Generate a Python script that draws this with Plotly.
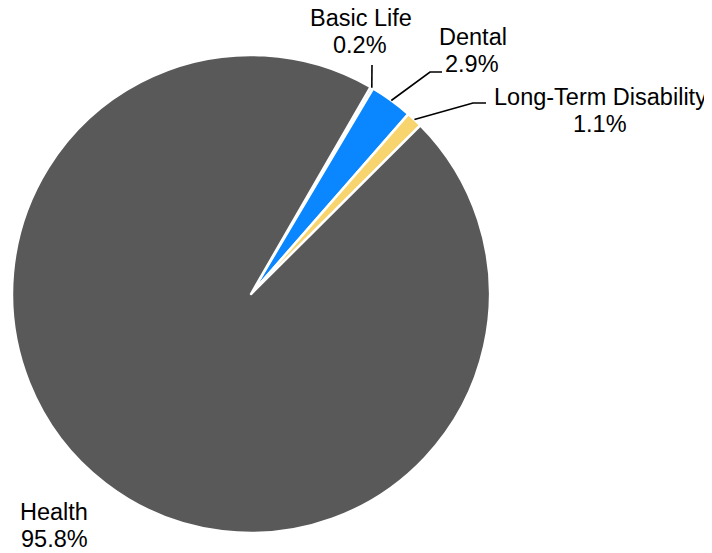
import math
import plotly.graph_objects as go

labels = ["Basic Life", "Dental", "Long-Term Disability", "Health"]
values = [0.2, 2.9, 1.1, 95.8]
pct_text = ["0.2%", "2.9%", "1.1%", "95.8%"]
colors = ["#9DC3E6", "#0A86FF", "#F8D46E", "#595959"]

OFF = 8  # page body margin
W, H = 712 - OFF, 553 - OFF
CX, CY, R = 251, 294, 239
ROT = 30

# label layout (pixel positions of text centers in the window) and leader elbows
label_pos = {
    "Basic Life": (361, 18, 360, 45),
    "Dental": (473, 37, 472, 64),
    "Long-Term Disability": (600, 97, 600, 124),
    "Health": (54, 512, 54, 539),
}
leader = {
    "Basic Life": [(372, 65)],
    "Dental": [(430, 72), (442, 72)],
    "Long-Term Disability": [(473, 103), (486, 103)],
}

def px(x):
    return (x - OFF) / W

def py(y):
    return 1 - (y - OFF) / H

fig = go.Figure(go.Pie(
    labels=labels, values=values, sort=False, direction="clockwise",
    rotation=ROT, textinfo="none", hoverinfo="label+percent",
    marker=dict(colors=colors, line=dict(color="white", width=2.5)),
    domain=dict(x=[px(CX - R), px(CX + R)], y=[py(CY + R), py(CY - R)]),
    showlegend=False,
))

annotations = []
shapes = []
total = sum(values)
cum = 0
for lab, v, pt in zip(labels, values, pct_text):
    mid = ROT + (cum + v / 2) / total * 360
    cum += v
    x1, y1, x2, y2 = label_pos[lab]
    for tx, ty, t in ((x1, y1, lab), (x2, y2, pt)):
        annotations.append(dict(x=px(tx), y=py(ty), xref="paper", yref="paper",
                                text=t, showarrow=False, xanchor="center", yanchor="middle",
                                font=dict(family="Liberation Sans, Arial", size=23.5, color="black")))
    if lab in leader:
        a = math.radians(mid)
        sx, sy = CX + R * math.sin(a), CY - R * math.cos(a)
        pts = [(sx, sy)] + leader[lab]
        path = "M " + " L ".join(f"{px(x)},{py(y)}" for x, y in pts)
        shapes.append(dict(type="path", xref="paper", yref="paper", path=path,
                           line=dict(color="black", width=1.6)))

fig.update_layout(width=W, height=H, margin=dict(l=0, r=0, t=0, b=0),
                  paper_bgcolor="white", plot_bgcolor="white",
                  annotations=annotations, shapes=shapes)
fig.write_html("out.html")
